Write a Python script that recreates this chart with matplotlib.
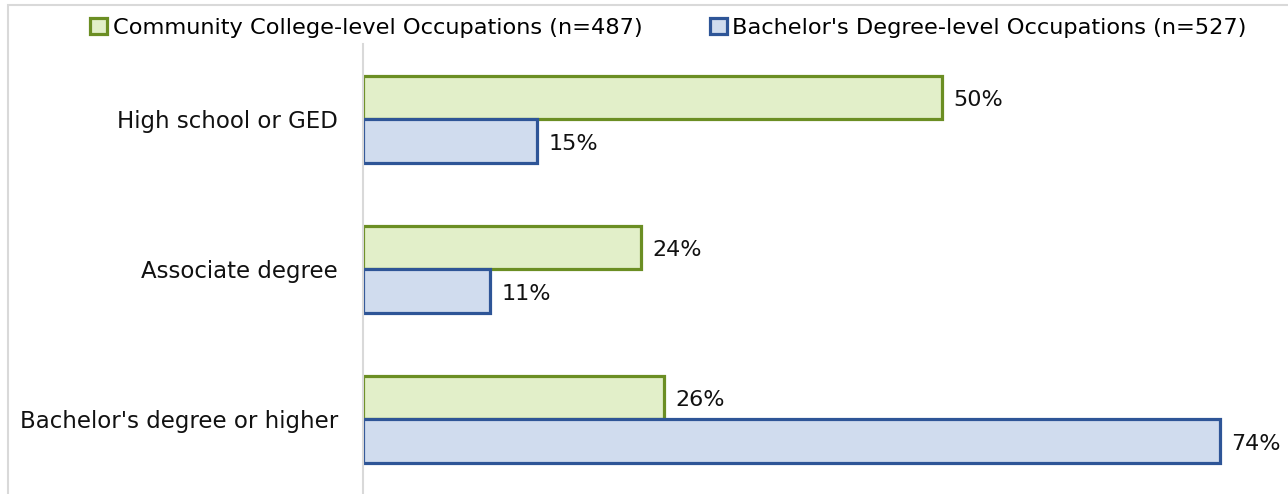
import matplotlib
matplotlib.use("Agg")
import matplotlib.pyplot as plt
import numpy as np

categories = ["High school or GED", "Associate degree", "Bachelor's degree or higher"]
cc_values = [50, 24, 26]
ba_values = [15, 11, 74]
series_names = ["Community College-level Occupations (n=487)",
                "Bachelor's Degree-level Occupations (n=527)"]

plt.rcParams['font.family'] = ['DejaVu Sans']

fig = plt.figure(figsize=(12.88, 4.94), dpi=100)
ax = fig.add_axes([363/1288, 0.0, (1289-363)/1288, 1 - 44/494])

y = np.arange(len(categories))
h = 0.29
green_edge = "#6B8E23"
green_fill = "#E2EFC9"
blue_edge = "#2E5597"
blue_fill = "#D0DCEE"

b1 = ax.barh(y - h/2, cc_values, height=h, color=green_fill, edgecolor=green_edge,
             linewidth=2.3, label=series_names[0])
b2 = ax.barh(y + h/2, ba_values, height=h, color=blue_fill, edgecolor=blue_edge,
             linewidth=2.3, label=series_names[1])

for bars, vals in ((b1, cc_values), (b2, ba_values)):
    for bar, v in zip(bars, vals):
        ax.text(v + 1.0, bar.get_y() + bar.get_height()/2 + 0.02, f"{v}%",
                va="center", ha="left", fontsize=16, color="#111111")

ax.set_xlim(0, 80)
ax.set_ylim(2.5, -0.5)
ax.set_yticks(y)
ax.set_yticklabels(categories, fontsize=16.5, color="#111111")
ax.tick_params(axis='y', length=0, pad=18)
ax.set_xticks([])
for s in ["top", "right", "bottom"]:
    ax.spines[s].set_visible(False)
ax.spines["left"].set_color("#D9D9D9")
ax.spines["left"].set_linewidth(1.5)

leg = fig.legend(handles=[b1, b2], loc="upper center", bbox_to_anchor=(0.519, 1.005),
                 ncol=2, frameon=False, fontsize=16.2, handlelength=0.75, handleheight=0.75,
                 handletextpad=0.25, columnspacing=3.0)

# light border around the figure
fig.patches.append(plt.Rectangle((8/1288, -0.01), 1.1, 1 - 5/494 + 0.01,
                                 transform=fig.transFigure, fill=False,
                                 edgecolor="#D9D9D9", linewidth=1.5))

fig.savefig("out.png", dpi=100)
